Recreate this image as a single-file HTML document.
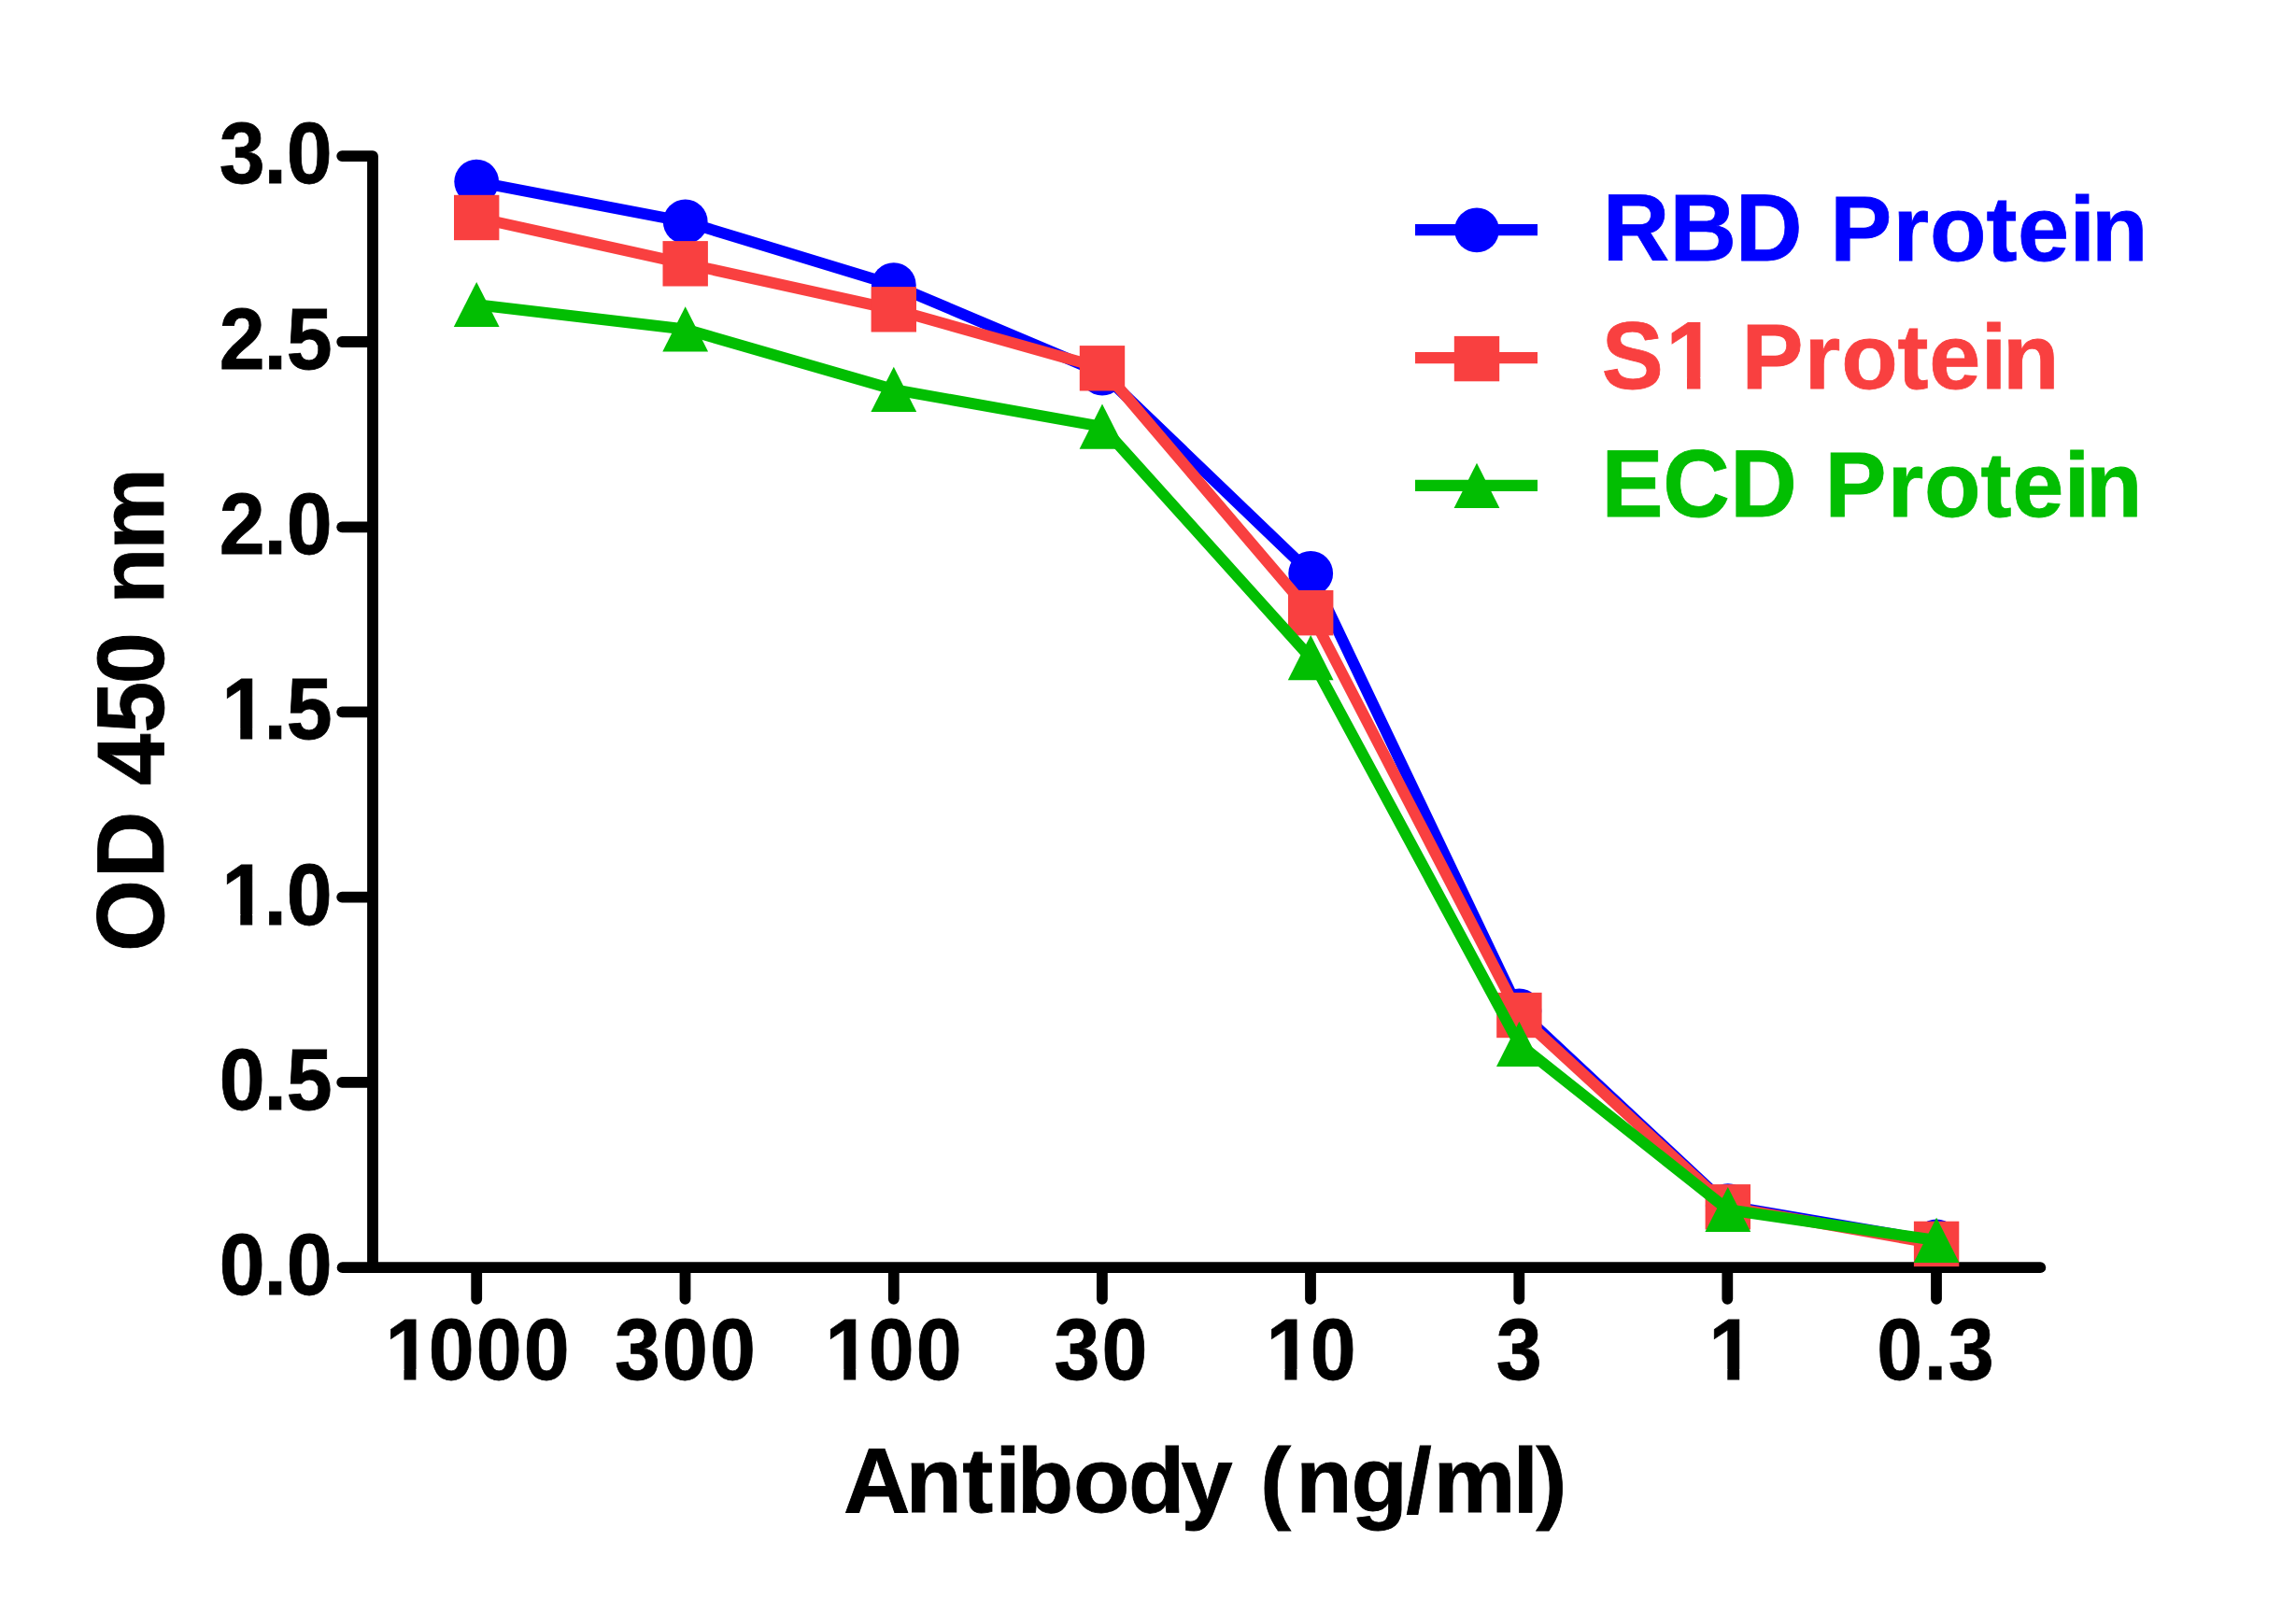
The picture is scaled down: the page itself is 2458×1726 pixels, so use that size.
<!DOCTYPE html>
<html lang="en">
<head>
<meta charset="utf-8">
<title>OD 450 nm vs Antibody (ng/ml)</title>
<style>
html,body{margin:0;padding:0;background:#fff;}
body{width:2458px;height:1726px;overflow:hidden;}
svg{display:block;}
text{font-family:"Liberation Sans",sans-serif;font-weight:bold;}
.tick{font-size:91.6px;fill:#000;stroke:#000;stroke-width:0.8px;stroke-linejoin:miter;}
.title{font-size:99.0px;fill:#000;stroke:#000;stroke-width:0.8px;stroke-linejoin:miter;}
.leg{font-size:99.0px;stroke-width:0.8px;stroke-linejoin:miter;}
</style>
</head>
<body>
<svg width="2458" height="1726" viewBox="0 0 2458 1726">
<rect x="0" y="0" width="2458" height="1726" fill="#ffffff"/>

<g fill="none" stroke="#000" stroke-width="11.8" stroke-linecap="round" stroke-linejoin="round">
<path d="M366.2,167.1 H399.0 V1357.2"/>
<path d="M366.6,1357.2 H2184.3"/>
<path d="M366.2,366.0 H398.0"/>
<path d="M366.2,564.3 H398.0"/>
<path d="M366.2,762.3 H398.0"/>
<path d="M366.2,960.6 H398.0"/>
<path d="M366.2,1158.9 H398.0"/>
<path d="M510.2,1358.2 V1390.8"/>
<path d="M733.5,1358.2 V1390.8"/>
<path d="M956.8,1358.2 V1390.8"/>
<path d="M1179.9,1358.2 V1390.8"/>
<path d="M1403.0,1358.2 V1390.8"/>
<path d="M1626.3,1358.2 V1390.8"/>
<path d="M1849.3,1358.2 V1390.8"/>
<path d="M2073.0,1358.2 V1390.8"/>
</g>
<g class="tick">
<text transform="translate(0,196.0) scale(0.96,1.01)" x="244.5 294.2 319.5" y="0">3.0</text>
<text transform="translate(0,394.9) scale(0.96,1.01)" x="244.5 294.2 319.5" y="0">2.5</text>
<text transform="translate(0,593.2) scale(0.96,1.01)" x="244.5 294.2 319.5" y="0">2.0</text>
<text transform="translate(0,791.2) scale(0.96,1.01)" x="247.1 294.2 319.5" y="0">1.5</text>
<text transform="translate(0,989.5) scale(0.96,1.01)" x="247.1 294.2 319.5" y="0">1.0</text>
<text transform="translate(0,1187.8) scale(0.96,1.01)" x="244.5 294.2 319.5" y="0">0.5</text>
<text transform="translate(0,1386.1) scale(0.96,1.01)" x="244.5 294.2 319.5" y="0">0.0</text>
</g>
<g class="tick">
<text transform="translate(0,1476.8) scale(0.96,1.01)" x="429.6 477.9 531.0 584.0" y="0">1000</text>
<text transform="translate(0,1476.8) scale(0.96,1.01)" x="685.5 738.6 791.7" y="0">300</text>
<text transform="translate(0,1476.8) scale(0.96,1.01)" x="920.0 968.6 1021.7" y="0">100</text>
<text transform="translate(0,1476.8) scale(0.96,1.01)" x="1175.5 1228.6" y="0">30</text>
<text transform="translate(0,1476.8) scale(0.96,1.01)" x="1411.9 1461.2" y="0">10</text>
<text transform="translate(0,1476.8) scale(0.96,1.01)" x="1668.6" y="0">3</text>
<text transform="translate(0,1476.8) scale(0.96,1.01)" x="1905.4" y="0">1</text>
<text transform="translate(0,1476.8) scale(0.96,1.01)" x="2093.1 2145.6 2172.6" y="0">0.3</text>
</g>
<text class="title" x="902.9 969.5 1030.3 1065.3 1088.7 1149.1 1208.1 1264.5 1319.6 1349.1 1387.2 1446.4 1505.2 1534.5 1619.6 1644.6" y="1619.2">Antibody (ng/ml)</text>
<text class="title" transform="translate(175.3,0) rotate(-90) scale(1,1.03)" x="-1019.0 -940.3 -868.8 -840.8 -784.7 -732.3" y="0">OD 450</text>
<text class="title" transform="translate(175.3,0) rotate(-90)" x="-647.0 -589.1" y="0">nm</text>
<polyline points="510.2,194.6 733.7,237.3 956.8,305.2 1180.0,399.6 1403.2,613.9 1626.4,1082.4 1849.8,1291.1 2073.1,1329.3" fill="none" stroke="#0000ff" stroke-width="12.0" stroke-linejoin="round"/>
<circle cx="510.2" cy="194.6" r="23.9" fill="#0000ff"/>
<circle cx="733.7" cy="237.3" r="23.9" fill="#0000ff"/>
<circle cx="956.8" cy="305.2" r="23.9" fill="#0000ff"/>
<circle cx="1180.0" cy="399.6" r="23.9" fill="#0000ff"/>
<circle cx="1403.2" cy="613.9" r="23.9" fill="#0000ff"/>
<circle cx="1626.4" cy="1082.4" r="23.9" fill="#0000ff"/>
<circle cx="1849.8" cy="1291.1" r="23.9" fill="#0000ff"/>
<circle cx="2073.1" cy="1329.3" r="23.9" fill="#0000ff"/>
<polyline points="510.2,233.0 733.7,282.3 956.8,331.3 1180.0,394.3 1403.2,656.2 1626.4,1087.0 1849.8,1292.3 2073.1,1331.9" fill="none" stroke="#f94040" stroke-width="12.0" stroke-linejoin="round"/>
<rect x="486.0" y="208.8" width="48.4" height="48.4" fill="#f94040"/>
<rect x="709.5" y="258.1" width="48.4" height="48.4" fill="#f94040"/>
<rect x="932.6" y="307.1" width="48.4" height="48.4" fill="#f94040"/>
<rect x="1155.8" y="370.1" width="48.4" height="48.4" fill="#f94040"/>
<rect x="1379.0" y="632.0" width="48.4" height="48.4" fill="#f94040"/>
<rect x="1602.2" y="1062.8" width="48.4" height="48.4" fill="#f94040"/>
<rect x="1825.6" y="1268.1" width="48.4" height="48.4" fill="#f94040"/>
<rect x="2048.9" y="1307.7" width="48.4" height="48.4" fill="#f94040"/>
<polyline points="510.2,326.2 733.7,352.5 956.8,417.1 1180.0,456.8 1403.2,704.4 1626.4,1118.0 1849.8,1295.2 2073.1,1328.0" fill="none" stroke="#02be02" stroke-width="12.0" stroke-linejoin="round"/>
<path d="M510.2,301.9 L534.6,350.1 H485.8 Z" fill="#02be02"/>
<path d="M733.7,328.2 L758.1,376.4 H709.3 Z" fill="#02be02"/>
<path d="M956.8,392.8 L981.2,441.0 H932.4 Z" fill="#02be02"/>
<path d="M1180.0,432.5 L1204.4,480.7 H1155.6 Z" fill="#02be02"/>
<path d="M1403.2,680.1 L1427.6,728.3 H1378.8 Z" fill="#02be02"/>
<path d="M1626.4,1093.7 L1650.8,1141.9 H1602.0 Z" fill="#02be02"/>
<path d="M1849.8,1270.9 L1874.2,1319.1 H1825.4 Z" fill="#02be02"/>
<path d="M2073.1,1303.7 L2097.5,1351.9 H2048.7 Z" fill="#02be02"/>
<path d="M1515,246.1 H1646" stroke="#0000ff" stroke-width="12.2" fill="none"/>
<circle cx="1581.0" cy="246.3" r="23.9" fill="#0000ff"/>
<text class="leg" transform="translate(0,278.8) scale(1,1.03)" x="1715.8 1787.4 1858.0" y="0" fill="#0000ff" stroke="#0000ff">RBD</text>
<text class="leg" x="1959.3 2026.6 2066.0 2126.4 2160.1 2215.6 2238.9" y="278.8" fill="#0000ff" stroke="#0000ff">Protein</text>
<path d="M1515,383.2 H1646" stroke="#f94040" stroke-width="12.2" fill="none"/>
<rect x="1556.8" y="359.9" width="48.4" height="48.4" fill="#f94040"/>
<text class="leg" transform="translate(0,415.7) scale(1,1.03)" x="1714.7 1783.3" y="0" fill="#f94040" stroke="#f94040">S1</text>
<text class="leg" x="1864.5 1931.8 1971.2 2031.6 2065.3 2120.8 2144.1" y="415.7" fill="#f94040" stroke="#f94040">Protein</text>
<path d="M1515,519.8 H1646" stroke="#02be02" stroke-width="12.2" fill="none"/>
<path d="M1581.0,495.8 L1605.4,544.0 H1556.6 Z" fill="#02be02"/>
<text class="leg" transform="translate(0,552.6) scale(1,1.03)" x="1714.6 1780.3 1852.2" y="0" fill="#02be02" stroke="#02be02">ECD</text>
<text class="leg" x="1953.4 2020.7 2060.1 2120.5 2154.2 2209.7 2233.0" y="552.6" fill="#02be02" stroke="#02be02">Protein</text>
<g fill="#ffffff"><rect x="241.2" y="780.6" width="16.1" height="13.6"/><rect x="270.2" y="780.6" width="15.4" height="13.6"/><rect x="241.2" y="978.9" width="16.1" height="13.6"/><rect x="270.2" y="978.9" width="15.4" height="13.6"/><rect x="416.4" y="1466.2" width="16.1" height="13.6"/><rect x="445.4" y="1466.2" width="15.4" height="13.6"/><rect x="887.2" y="1466.2" width="16.1" height="13.6"/><rect x="916.2" y="1466.2" width="15.4" height="13.6"/><rect x="1359.4" y="1466.2" width="16.1" height="13.6"/><rect x="1388.4" y="1466.2" width="15.4" height="13.6"/><rect x="1833.2" y="1466.2" width="16.1" height="13.6"/><rect x="1862.2" y="1466.2" width="15.4" height="13.6"/><rect x="1788.0" y="404.1" width="18.0" height="14.6"/><rect x="1820.4" y="404.1" width="17.1" height="14.6"/></g>
</svg>
</body>
</html>
